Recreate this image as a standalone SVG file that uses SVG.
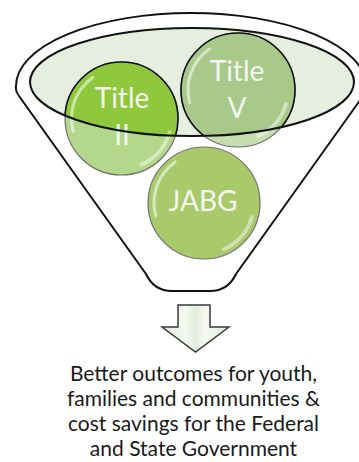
<svg xmlns="http://www.w3.org/2000/svg" width="359" height="462" viewBox="0 0 359 462">
  <defs>
    <style>
      .rim { fill: none; stroke: #111; stroke-width: 2; stroke-linejoin: round; }
      .circ-out { stroke: #707070; stroke-width: 1.2; }
      .circ-in { stroke: #111; stroke-width: 1.6; }
      .ctext { font-family: Lato, "Open Sans", sans-serif; font-size: 28px; fill: #f4f8ee; text-anchor: middle; }
      .btext { font-family: Lato, "Open Sans", sans-serif; font-size: 21px; fill: #1a1a1a; text-anchor: middle; }
      .gloss { fill: none; stroke: #ffffff; stroke-linecap: round; }
    </style>
    <clipPath id="lens">
      <ellipse cx="192" cy="82" rx="162" ry="54"/>
    </clipPath>
    <g id="shine">
      <path class="gloss" d="M -48.3 12.9 A 50 50 0 0 1 -28.7 -41" stroke-width="3" stroke-opacity="0.55"/>
      <path class="gloss" d="M 48 14 A 50 50 0 0 1 20 46" stroke-width="4" stroke-opacity="0.45"/>
    </g>
    <linearGradient id="arrowFill" x1="0" y1="0" x2="1" y2="0">
      <stop offset="0" stop-color="#dfe8d6"/>
      <stop offset="0.35" stop-color="#f6f9f2"/>
      <stop offset="0.5" stop-color="#e4ecdc"/>
      <stop offset="0.65" stop-color="#f6f9f2"/>
      <stop offset="1" stop-color="#dfe8d6"/>
    </linearGradient>
  </defs>

  <rect width="359" height="462" fill="#ffffff"/>

  <g id="funnel">
    <path class="rim" fill="#ffffff" d="M 16 86 A 175 73 0 0 1 366 86 Q 367 92 363 96 L 236 274 Q 228 291 210 291 L 172 291 Q 154 291 146 274 L 19 96 Q 15 91 16 86 Z"/>
    <ellipse cx="192" cy="82" rx="162" ry="54" fill="#e6efdf" stroke="none"/>
  </g>

  <g id="node-title-ii">
    <circle class="circ-out" cx="121.5" cy="118.5" r="56.5" fill="#b4d88b"/>
    <circle class="circ-in" cx="121.5" cy="118.5" r="56.5" fill="#8fc83d" clip-path="url(#lens)"/>
    <use href="#shine" transform="translate(121.5 118.5)"/>
    <text class="ctext" x="122" y="108">Title</text>
    <text class="ctext" x="122" y="145">II</text>
  </g>

  <g id="node-title-v">
    <circle class="circ-out" cx="238" cy="90" r="57" fill="#c6dcb1"/>
    <circle class="circ-in" cx="238" cy="90" r="57" fill="#a8c98a" clip-path="url(#lens)"/>
    <use href="#shine" transform="translate(238 90)"/>
    <text class="ctext" x="237" y="81">Title</text>
    <text class="ctext" x="237" y="118">V</text>
  </g>

  <g id="node-jabg">
    <circle class="circ-out" cx="204" cy="203" r="56" fill="#a9c96b"/>
    <use href="#shine" transform="translate(204 203)"/>
    <text class="ctext" x="203" y="211">JABG</text>
  </g>

  <g id="funnel-lens-outline">
    <ellipse cx="192" cy="82" rx="162" ry="54" class="rim"/>
  </g>

  <g id="connectors">
    <path d="M 178 305 L 210 305 L 210 327 L 229 327 L 195.5 352 L 162 327 L 178 327 Z" fill="url(#arrowFill)" stroke="#3a3a3a" stroke-width="1.5" stroke-linejoin="miter"/>
  </g>

  <g id="outcome-label">
    <text class="btext" x="193.5" y="381">Better outcomes for youth,</text>
    <text class="btext" x="193.5" y="406">families and communities &amp;</text>
    <text class="btext" x="193.5" y="431">cost savings for the Federal</text>
    <text class="btext" x="193.5" y="456">and State Government</text>
  </g>
</svg>
